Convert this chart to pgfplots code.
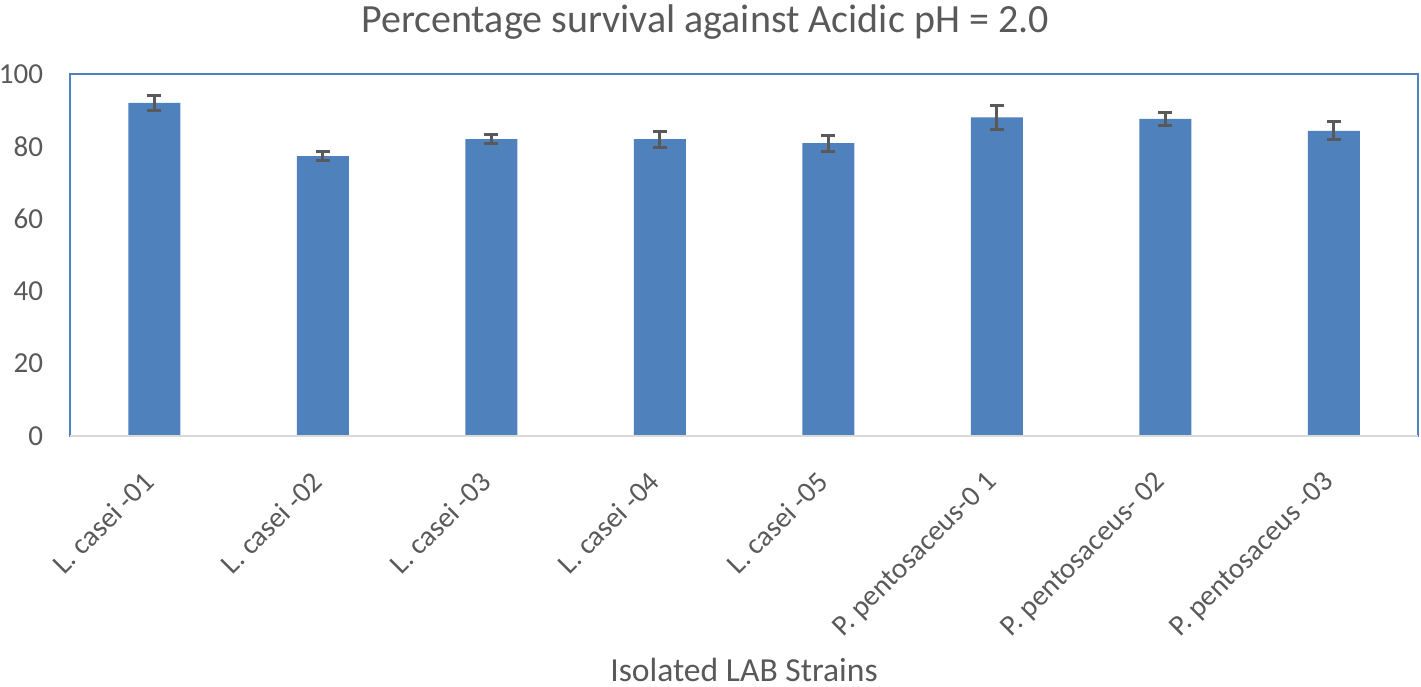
\documentclass[border=0pt]{standalone}
\usepackage{pgfplots}
\pgfplotsset{compat=1.18}
\usepackage{fontspec}
\setmainfont{Carlito}
\definecolor{barblue}{HTML}{4F81BD}
\definecolor{txtgray}{HTML}{595959}
\definecolor{axgray}{HTML}{D9D9D9}
\begin{document}
\begin{tikzpicture}
\begin{axis}[
  scale only axis,
  width=674bp, height=181bp,
  xmin=-0.5, xmax=7.5,
  ymin=0, ymax=100,
  ytick={0,20,...,100},
  xtick={0,...,7},
  xticklabels={L. casei -01, L. casei -02, L. casei -03, L. casei -04, L. casei -05, P. pentosaceus-0 1, P. pentosaceus- 02, P. pentosaceus -03},
  major tick length=0pt,
  axis line style={draw=barblue, line width=1bp},
  tick label style={font=\fontsize{14.5bp}{17bp}\selectfont, text=txtgray},
  /pgf/number format/assume math mode=true,
  yticklabel style={anchor=east, xshift=-10bp},
  xticklabel style={rotate=45, anchor=north east, xshift=-12.9bp, yshift=-4bp},
  clip=false,
]
\addplot[ybar, bar width=26bp, fill=barblue, draw=none,
  error bars/.cd, y dir=both, y explicit,
  error bar style={draw=txtgray, line width=1.5bp},
  error mark options={draw=txtgray, line width=1.5bp, mark size=3.5bp, rotate=90}]
  table[x=x, y=y, y error=e] {
x y e
0 92.0 2.0
1 77.3 1.3
2 82.0 1.3
3 82.0 2.2
4 80.9 2.2
5 88.0 3.3
6 87.6 1.9
7 84.3 2.5
};
\draw[axgray, line width=1.2bp] (rel axis cs:0,0) -- (rel axis cs:1,0);
\end{axis}
\node[font=\fontsize{20bp}{24bp}\selectfont, text=txtgray] at (317.5bp,207bp) {Percentage survival against Acidic pH = 2.0};
\node[font=\fontsize{16.8bp}{19bp}\selectfont, text=txtgray, anchor=base, inner sep=0pt] at (337bp,-122.5bp) {Isolated LAB Strains};
\pgfresetboundingbox
\path[use as bounding box] (-35bp,-125.5bp) rectangle (675.5bp,218bp);
\end{tikzpicture}
\end{document}
